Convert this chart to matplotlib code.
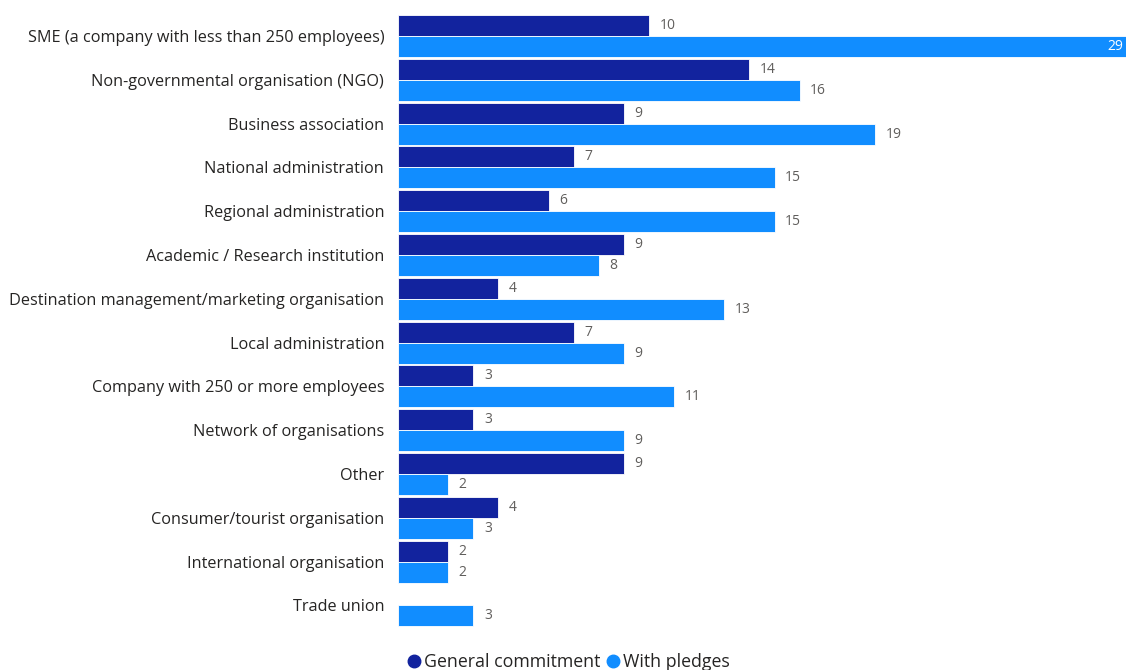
import matplotlib.pyplot as plt
from matplotlib.lines import Line2D

categorias = [
    'SME (a company with less than 250 employees)',
    'Non-governmental organisation (NGO)',
    'Business association',
    'National administration',
    'Regional administration',
    'Academic / Research institution',
    'Destination management/marketing organisation',
    'Local administration',
    'Company with 250 or more employees',
    'Network of organisations',
    'Other',
    'Consumer/tourist organisation',
    'International organisation',
    'Trade union',
]
general = [10, 14, 9, 7, 6, 9, 4, 7, 3, 3, 9, 4, 2, 0]
pledges = [29, 16, 19, 15, 15, 8, 13, 9, 11, 9, 2, 3, 2, 3]

cor_general = '#12239E'
cor_pledges = '#118DFF'
cor_texto = '#252423'
cor_rotulo = '#605E5C'

plt.rcParams['font.family'] = ['Open Sans', 'DejaVu Sans']

fig = plt.figure(figsize=(11.26, 6.7), dpi=100)
ax = fig.add_axes([0.3535, 0.0637, 0.6465, 0.9153])

h = 0.48
y = list(range(len(categorias)))
b1 = ax.barh([i - h / 2 for i in y], general, height=h, color=cor_general,
             edgecolor='white', linewidth=0.6)
b2 = ax.barh([i + h / 2 for i in y], pledges, height=h, color=cor_pledges,
             edgecolor='white', linewidth=0.6)

xmax = 29
ax.set_xlim(0, xmax)
ax.set_ylim(len(categorias) - 0.5, -0.5)

# rótulos de valor: dentro da barra quando ela chega ao fim do eixo
for barras in (b1, b2):
    for barra in barras:
        v = barra.get_width()
        if v == 0:
            continue
        yc = barra.get_y() + barra.get_height() / 2
        if v >= xmax:
            ax.text(v - 0.1, yc, f'{v:.0f}', ha='right', va='center',
                    color='white', fontsize=10)
        else:
            ax.text(v + 0.42, yc, f'{v:.0f}', ha='left', va='center',
                    color=cor_rotulo, fontsize=10)

ax.set_yticks(y)
ax.set_yticklabels(categorias, fontsize=11.7, color=cor_texto)
ax.tick_params(axis='y', length=0, pad=10)
ax.set_xticks([])
for s in ax.spines.values():
    s.set_visible(False)

handles = [
    Line2D([], [], marker='o', linestyle='none', markersize=9,
           color=cor_general, label='General commitment'),
    Line2D([], [], marker='o', linestyle='none', markersize=9,
           color=cor_pledges, label='With pledges'),
]
fig.legend(handles=handles, loc='center', bbox_to_anchor=(0.505, 0.012),
           ncol=2, frameon=False, fontsize=12.8, handletextpad=0.2,
           columnspacing=0.4, handlelength=0.7, labelcolor=cor_texto)

fig.savefig('out.png', dpi=100)
